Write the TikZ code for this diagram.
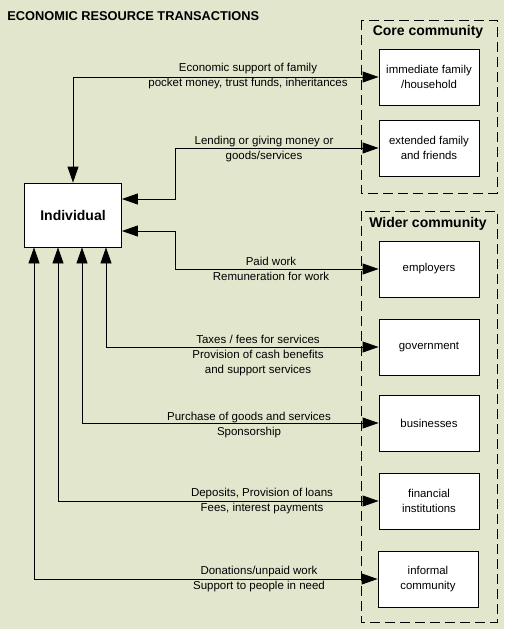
\documentclass[tikz,border=0pt]{standalone}
\usepackage{fontspec}
\setmainfont{Liberation Sans}
\usetikzlibrary{arrows.meta}
\definecolor{paper}{RGB}{226,230,205}
\tikzset{
  actor/.style={draw, fill=white, minimum width=100pt, minimum height=56pt,
    align=center, font=\fontsize{11.4}{14.5}\selectfont},
  group/.style={draw, dash pattern=on 10pt off 5pt},
  flow/.style={arrows={Triangle[length=16pt,width=11pt]-Triangle[length=16pt,width=11pt]}},
  lbl/.style={align=center, inner sep=0pt, font=\fontsize{11.5}{15}\selectfont},
  head/.style={font=\bfseries\fontsize{14}{16}\selectfont},
}
\begin{document}
\begin{tikzpicture}[x=1pt, y=-1pt, line width=0.85pt]
\fill[paper] (0,0) rectangle (504,629);
\useasboundingbox (0,0) rectangle (504,629);
\node[anchor=west, inner sep=0pt, font=\bfseries\fontsize{12.8}{15}\selectfont] (title) at (7,16) {ECONOMIC RESOURCE TRANSACTIONS};
% communities
\draw[group] (361,20) rectangle (497,193);
\node[head] (core) at (428,32) {Core community};
\draw[group] (361,211) rectangle (497,622);
\node[head] (wider) at (428,224) {Wider community};
% actors
\node[draw, fill=white, minimum width=97pt, minimum height=64pt, head] (indiv) at (73,215) {Individual};
\node[actor] (fam) at (429,77) {immediate family\\/household};
\node[actor] (ext) at (429,148) {extended family\\and friends};
\node[actor] (emp) at (429,269) {employers};
\node[actor] (gov) at (429,347) {government};
\node[actor] (bus) at (429,423) {businesses};
\node[actor] (fin) at (429,501) {financial\\institutions};
\node[actor] (inf) at (428,579) {informal\\community};
% flows
\draw[flow] (fam.west) -| (indiv.north);
\node[lbl] (l_fam) at (248,76) {Economic support of family\\pocket money, trust funds, inheritances};
\draw[flow] (ext.west) -- ++(-203,0) |- ([yshift=16pt]indiv.east);
\node[lbl] (l_ext) at (264,149) {Lending or giving money or\\goods/services};
\draw[flow] (emp.west) -- ++(-203,0) |- ([yshift=-16pt]indiv.east);
\node[lbl] (l_emp) at (271,269) {Paid work\\Remuneration for work};
\draw[flow] (gov.west) -| ([xshift=33pt]indiv.south);
\node[lbl] (l_gov) at (258,356) {Taxes / fees for services\\Provision of cash benefits\\and support services};
\draw[flow] (bus.west) -| ([xshift=9pt]indiv.south);
\node[lbl] (l_bus) at (249,425.5) {Purchase of goods and services\\Sponsorship};
\draw[flow] (fin.west) -| ([xshift=-15pt]indiv.south);
\node[lbl] (l_fin) at (262,501) {Deposits, Provision of loans\\Fees, interest payments};
\draw[flow] (inf.west) -| ([xshift=-39pt]indiv.south);
\node[lbl] (l_inf) at (259,579) {Donations/unpaid work\\Support to people in need};
\end{tikzpicture}
\end{document}
